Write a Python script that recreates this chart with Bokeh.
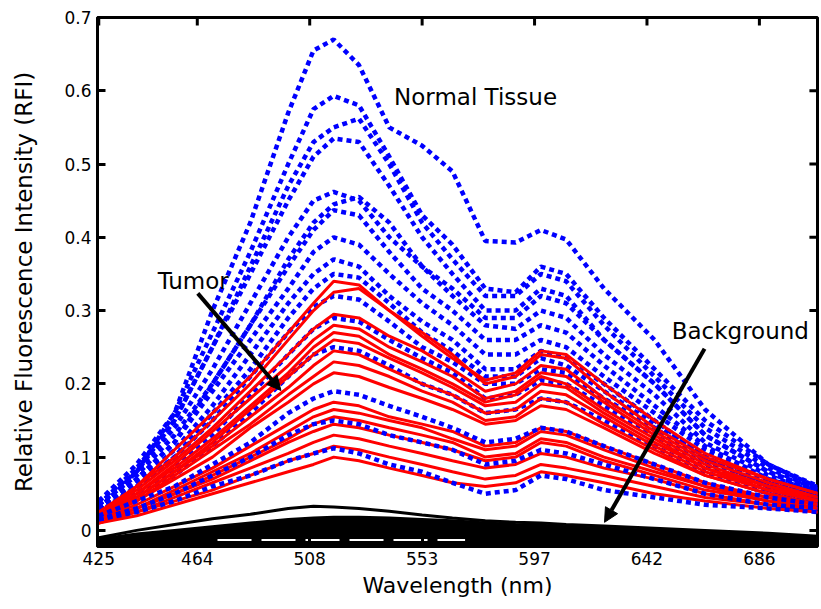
from bokeh.plotting import figure
from bokeh.models import FixedTicker, Arrow, NormalHead, Range1d
from bokeh.core.properties import value
from bokeh.embed import file_html
from bokeh.resources import INLINE

# ---------------- data ----------------
wavelength = [425, 440, 455, 470, 485, 500, 510, 518, 528, 540, 553, 565, 578, 590, 600, 610, 625, 645, 665, 690, 710]

# Normal tissue (blue dotted)
normal_01 = [0.03, 0.08, 0.16, 0.30, 0.42, 0.57, 0.655, 0.670, 0.635, 0.55, 0.525, 0.49, 0.395, 0.393, 0.41, 0.397, 0.33, 0.26, 0.165, 0.09, 0.058]
normal_02 = [0.04, 0.09, 0.16, 0.27, 0.38, 0.50, 0.575, 0.593, 0.58, 0.51, 0.43, 0.39, 0.33, 0.325, 0.36, 0.35, 0.29, 0.22, 0.15, 0.09, 0.06]
normal_03 = [0.035, 0.085, 0.15, 0.25, 0.36, 0.47, 0.53, 0.55, 0.562, 0.50, 0.42, 0.37, 0.32, 0.32, 0.35, 0.34, 0.28, 0.21, 0.14, 0.085, 0.055]
normal_04 = [0.04, 0.08, 0.15, 0.25, 0.35, 0.45, 0.51, 0.535, 0.53, 0.47, 0.40, 0.35, 0.30, 0.30, 0.33, 0.32, 0.26, 0.20, 0.13, 0.08, 0.05]
normal_05 = [0.035, 0.08, 0.14, 0.22, 0.31, 0.40, 0.45, 0.462, 0.45, 0.40, 0.36, 0.33, 0.29, 0.29, 0.32, 0.31, 0.26, 0.20, 0.13, 0.08, 0.055]
normal_06 = [0.03, 0.07, 0.12, 0.20, 0.28, 0.37, 0.42, 0.445, 0.455, 0.42, 0.36, 0.32, 0.28, 0.275, 0.30, 0.29, 0.24, 0.185, 0.12, 0.075, 0.05]
normal_07 = [0.035, 0.075, 0.13, 0.20, 0.28, 0.36, 0.41, 0.437, 0.43, 0.38, 0.33, 0.30, 0.26, 0.26, 0.28, 0.27, 0.225, 0.17, 0.115, 0.07, 0.05]
normal_08 = [0.03, 0.07, 0.12, 0.19, 0.26, 0.33, 0.38, 0.40, 0.39, 0.35, 0.31, 0.28, 0.24, 0.24, 0.26, 0.25, 0.21, 0.16, 0.11, 0.07, 0.045]
normal_09 = [0.03, 0.065, 0.11, 0.17, 0.24, 0.31, 0.35, 0.37, 0.36, 0.32, 0.285, 0.26, 0.22, 0.22, 0.245, 0.235, 0.20, 0.15, 0.10, 0.065, 0.045]
normal_10 = [0.025, 0.06, 0.10, 0.16, 0.22, 0.29, 0.33, 0.35, 0.345, 0.31, 0.27, 0.245, 0.21, 0.21, 0.235, 0.225, 0.19, 0.145, 0.10, 0.06, 0.04]
normal_11 = [0.03, 0.06, 0.10, 0.15, 0.21, 0.27, 0.305, 0.32, 0.315, 0.285, 0.25, 0.23, 0.20, 0.20, 0.22, 0.215, 0.18, 0.14, 0.095, 0.06, 0.045]
normal_12 = [0.025, 0.05, 0.085, 0.13, 0.185, 0.24, 0.275, 0.29, 0.285, 0.26, 0.235, 0.215, 0.18, 0.185, 0.205, 0.20, 0.17, 0.13, 0.09, 0.055, 0.04]
normal_13 = [0.02, 0.045, 0.075, 0.115, 0.16, 0.21, 0.24, 0.25, 0.245, 0.225, 0.20, 0.185, 0.16, 0.165, 0.18, 0.175, 0.15, 0.115, 0.08, 0.05, 0.035]
normal_14 = [0.02, 0.04, 0.06, 0.09, 0.12, 0.16, 0.18, 0.19, 0.185, 0.17, 0.155, 0.14, 0.12, 0.125, 0.14, 0.135, 0.115, 0.09, 0.065, 0.045, 0.035]
normal_15 = [0.015, 0.03, 0.05, 0.075, 0.10, 0.13, 0.145, 0.15, 0.145, 0.13, 0.12, 0.11, 0.09, 0.095, 0.11, 0.105, 0.09, 0.07, 0.05, 0.035, 0.03]
normal_16 = [0.015, 0.025, 0.04, 0.06, 0.075, 0.095, 0.105, 0.112, 0.105, 0.09, 0.08, 0.065, 0.05, 0.055, 0.075, 0.07, 0.055, 0.045, 0.035, 0.03, 0.025]

# Tumor (red solid)
tumor_01 = [0.02, 0.06, 0.11, 0.16, 0.21, 0.27, 0.31, 0.34, 0.335, 0.30, 0.27, 0.24, 0.20, 0.21, 0.24, 0.235, 0.19, 0.14, 0.10, 0.07, 0.05]
tumor_02 = [0.025, 0.06, 0.10, 0.15, 0.20, 0.26, 0.30, 0.325, 0.33, 0.30, 0.265, 0.235, 0.205, 0.215, 0.245, 0.24, 0.20, 0.15, 0.105, 0.07, 0.05]
tumor_03 = [0.02, 0.055, 0.095, 0.14, 0.19, 0.24, 0.275, 0.295, 0.29, 0.265, 0.245, 0.22, 0.19, 0.20, 0.225, 0.22, 0.18, 0.135, 0.095, 0.065, 0.045]
tumor_04 = [0.02, 0.05, 0.09, 0.135, 0.18, 0.225, 0.26, 0.28, 0.275, 0.25, 0.23, 0.21, 0.18, 0.19, 0.215, 0.21, 0.175, 0.13, 0.09, 0.06, 0.045]
tumor_05 = [0.02, 0.05, 0.085, 0.125, 0.17, 0.215, 0.25, 0.27, 0.265, 0.24, 0.22, 0.20, 0.175, 0.185, 0.21, 0.20, 0.165, 0.125, 0.085, 0.06, 0.04]
tumor_06 = [0.02, 0.045, 0.08, 0.12, 0.165, 0.21, 0.24, 0.26, 0.255, 0.235, 0.215, 0.195, 0.17, 0.175, 0.20, 0.195, 0.16, 0.12, 0.085, 0.055, 0.04]
tumor_07 = [0.015, 0.045, 0.08, 0.115, 0.155, 0.195, 0.225, 0.245, 0.24, 0.22, 0.20, 0.185, 0.16, 0.165, 0.19, 0.185, 0.155, 0.115, 0.08, 0.055, 0.04]
tumor_08 = [0.02, 0.04, 0.075, 0.11, 0.145, 0.185, 0.21, 0.23, 0.225, 0.21, 0.19, 0.175, 0.15, 0.155, 0.18, 0.175, 0.145, 0.11, 0.075, 0.05, 0.035]
tumor_09 = [0.015, 0.04, 0.07, 0.10, 0.14, 0.175, 0.20, 0.215, 0.21, 0.195, 0.18, 0.165, 0.145, 0.15, 0.17, 0.165, 0.14, 0.105, 0.075, 0.05, 0.035]
tumor_10 = [0.015, 0.035, 0.06, 0.085, 0.115, 0.145, 0.165, 0.175, 0.17, 0.155, 0.145, 0.135, 0.115, 0.12, 0.14, 0.135, 0.115, 0.09, 0.065, 0.045, 0.035]
tumor_11 = [0.015, 0.03, 0.055, 0.08, 0.105, 0.135, 0.155, 0.165, 0.16, 0.15, 0.14, 0.125, 0.11, 0.115, 0.135, 0.13, 0.11, 0.085, 0.06, 0.045, 0.03]
tumor_12 = [0.015, 0.03, 0.05, 0.075, 0.10, 0.125, 0.145, 0.155, 0.15, 0.14, 0.13, 0.12, 0.10, 0.105, 0.125, 0.12, 0.10, 0.08, 0.06, 0.04, 0.03]
tumor_13 = [0.01, 0.03, 0.05, 0.07, 0.095, 0.12, 0.135, 0.145, 0.14, 0.13, 0.12, 0.11, 0.095, 0.10, 0.12, 0.115, 0.095, 0.075, 0.055, 0.04, 0.03]
tumor_14 = [0.015, 0.025, 0.045, 0.065, 0.085, 0.105, 0.12, 0.13, 0.125, 0.115, 0.105, 0.095, 0.085, 0.09, 0.105, 0.10, 0.085, 0.07, 0.05, 0.035, 0.03]
tumor_15 = [0.01, 0.025, 0.04, 0.055, 0.075, 0.095, 0.105, 0.115, 0.11, 0.10, 0.09, 0.08, 0.07, 0.075, 0.09, 0.085, 0.075, 0.06, 0.045, 0.035, 0.025]
tumor_16 = [0.01, 0.02, 0.035, 0.05, 0.065, 0.08, 0.09, 0.10, 0.095, 0.085, 0.075, 0.065, 0.06, 0.065, 0.08, 0.075, 0.065, 0.05, 0.04, 0.03, 0.025]

# Background (black)
background_01 = [-0.01, 0.0, 0.008, 0.016, 0.022, 0.03, 0.033, 0.032, 0.03, 0.026, 0.021, 0.017, 0.013, 0.011, 0.01, 0.008, 0.006, 0.003, 0.0, -0.004, -0.008]
background_02 = [-0.012, -0.005, 0.0, 0.005, 0.01, 0.015, 0.017, 0.018, 0.018, 0.017, 0.015, 0.013, 0.01, 0.008, 0.007, 0.005, 0.003, 0.0, -0.003, -0.006, -0.009]
background_gap_x = [472, 570]
background_gap_y = [-0.013, -0.013]

# axes ticks and labels
x_ticks = [425, 464, 508.5, 553, 597.5, 642, 686.5]
x_tick_labels = ["425", "464", "508", "553", "597", "642", "686"]
y_ticks = [0, 0.1, 0.2, 0.3, 0.4, 0.5, 0.6, 0.7]
y_tick_labels = ["0", "0.1", "0.2", "0.3", "0.4", "0.5", "0.6", "0.7"]

# annotations
label_text = ["Normal Tissue", "Tumor", "Background"]
label_x = [541.9, 448.3, 651.8]
label_y = [0.591, 0.341, 0.272]
arrow_tumor = (464.2, 0.3235, 497.1, 0.191)
arrow_background = (664.8, 0.248, 625.2, 0.011)

# ---------------- figure ----------------
FONT = "DejaVu Sans"
X0, X1 = 424.5, 709.5
Y0, Y1 = -0.022, 0.7
TICK_X_LEN = 3.2      # 8 px in data units along x
TICK_Y_LEN = 0.011    # 8 px in data units along y

p = figure(width=820, height=606, output_backend="svg", toolbar_location=None,
           x_range=Range1d(X0, X1), y_range=Range1d(Y0, Y1),
           min_border_left=97, min_border_right=3, min_border_top=17, min_border_bottom=60)
p.xgrid.visible = False
p.ygrid.visible = False
p.outline_line_color = "black"
p.outline_line_width = 3
p.background_fill_color = "white"
p.border_fill_color = "white"

xa = p.xaxis[0]
xa.ticker = FixedTicker(ticks=x_ticks)
xa.major_label_overrides = dict(zip(x_ticks, x_tick_labels))
xa.axis_label = "Wavelength (nm)"
ya = p.yaxis[0]
ya.ticker = FixedTicker(ticks=y_ticks)
ya.major_label_overrides = dict(zip(y_ticks, y_tick_labels))
ya.axis_label = "Relative Fluorescence Intensity (RFI)"

for ax in [xa, ya]:
    ax.axis_line_width = 3
    ax.axis_line_color = "black"
    ax.major_tick_in = 8
    ax.major_tick_out = 0
    ax.major_tick_line_width = 3
    ax.minor_tick_line_color = None
    ax.major_label_text_font = FONT
    ax.major_label_text_font_size = "17px"
    ax.major_label_text_color = "black"
    ax.axis_label_text_font = FONT
    ax.axis_label_text_font_style = "normal"
    ax.axis_label_text_color = "black"

xa.axis_label_text_font_size = "22px"
ya.axis_label_text_font_size = "23px"
xa.major_label_standoff = 5
xa.axis_label_standoff = 5
ya.major_label_standoff = 6
ya.axis_label_standoff = 24

# inward ticks on the top and right frame edges (box style)
p.segment(x0=x_ticks, y0=[Y1] * len(x_ticks), x1=x_ticks, y1=[Y1 - TICK_Y_LEN] * len(x_ticks),
          line_color="black", line_width=3)
p.segment(x0=[X1] * len(y_ticks), y0=y_ticks, x1=[X1 - TICK_X_LEN] * len(y_ticks), y1=y_ticks,
          line_color="black", line_width=3)

normal_high = [normal_01, normal_02, normal_03, normal_04, normal_05, normal_06, normal_07,
               normal_08, normal_09, normal_10, normal_11, normal_12, normal_13]
normal_low = [normal_14, normal_15, normal_16]
tumor = [tumor_01, tumor_02, tumor_03, tumor_04, tumor_05, tumor_06, tumor_07, tumor_08,
         tumor_09, tumor_10, tumor_11, tumor_12, tumor_13, tumor_14, tumor_15, tumor_16]

# background
p.varea(x=wavelength, y1=-0.05, y2=background_02, fill_color="black")
p.line(wavelength, background_02, line_color="black", line_width=3)
p.line(wavelength, background_01, line_color="black", line_width=3)
p.line(background_gap_x, background_gap_y, line_color="white", line_width=2, line_dash="34 10")

for ys in normal_high:
    p.line(wavelength, ys, line_color="#0000ff", line_width=4.5, line_dash="5 4")
for ys in tumor:
    p.line(wavelength, ys, line_color="#ff0000", line_width=3)
for ys in normal_low:
    p.line(wavelength, ys, line_color="#0000ff", line_width=4.5, line_dash="5 4")

p.text(x=label_x, y=label_y, text=label_text, text_font=value(FONT), text_font_size="23px",
       text_baseline="middle", text_align="left", text_color="black")

for (xs, ys0, xe, ye) in [arrow_tumor, arrow_background]:
    p.add_layout(Arrow(end=NormalHead(size=14, fill_color="black", line_color="black"),
                       x_start=xs, y_start=ys0, x_end=xe, y_end=ye,
                       line_color="black", line_width=4))

open("out.html", "w").write(file_html(p, INLINE))
